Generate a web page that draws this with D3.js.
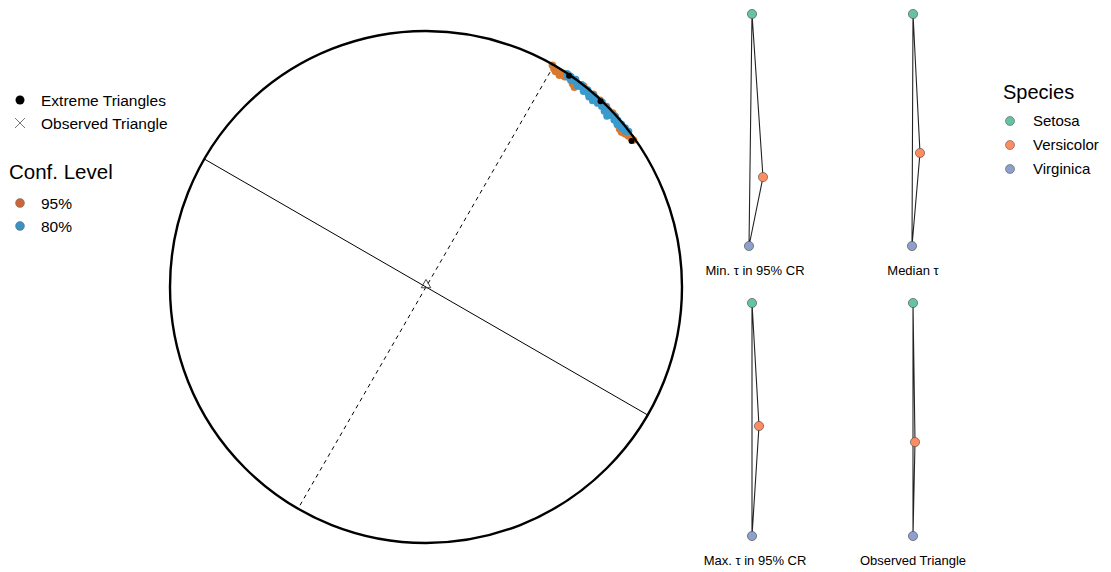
<!DOCTYPE html>
<html lang="en">
<head>
    <meta charset="UTF-8">
    <script src="https://d3js.org/d3.v7.min.js"></script>
    <style>
        body { margin: 0; background: #fff; font-family: "Liberation Sans", Arial, sans-serif; }
        svg { display: block; }
    </style>
</head>
<body>
    <svg width="1111" height="572"></svg>
    <script>
        // confidence region points on the circle: angle (deg, screen) and radius (unit circle)
        let ci95Angle = [-60.3, -59.6, -59.0, -58.4, -57.8, -57.2, -56.6, -55.8, -55.0, -54.2, -53.4, -52.6, -51.8, -50.9, -50.0, -49.0, -48.0, -47.0, -46.0, -45.0, -44.0, -43.0, -42.0, -41.0, -40.0, -39.2, -38.4, -37.6, -36.8, -36.0, -35.3];
        let ci95Radius = [0.997, 0.988, 0.982, 0.987, 0.978, 0.992, 0.984, 0.997, 0.986, 0.979, 0.972, 0.987, 0.997, 0.992, 0.987, 0.997, 0.992, 0.997, 0.992, 0.997, 0.992, 0.997, 0.995, 0.987, 0.981, 0.976, 0.974, 0.981, 0.986, 0.99, 0.993];
        let ci80Angle = [-56.5, -56.0, -55.4, -54.8, -54.2, -53.6, -53.0, -52.4, -51.8, -51.2, -50.6, -50.0, -49.4, -48.8, -48.2, -47.6, -47.0, -46.4, -45.8, -45.2, -44.6, -44.0, -43.4, -42.8, -42.2, -41.6, -41.0, -40.4, -39.8, -39.2, -38.6, -38.0, -37.5];
        let ci80Radius = [1.0, 0.99, 0.998, 0.986, 1.0, 0.992, 0.983, 0.998, 0.99, 0.981, 0.996, 0.986, 0.978, 0.995, 0.976, 0.99, 0.982, 0.998, 0.984, 0.995, 0.978, 0.99, 0.972, 0.986, 0.996, 0.982, 0.993, 0.98, 0.994, 0.984, 0.996, 0.988, 0.998];
        let extremeAngle = [-55.9, -46.8, -35.4];
        let extremeRadius = [0.997, 0.996, 0.985];
        let axisAngles = [30, -60];      // solid, dashed direction
        let observedPoint = [0, 0];

        let species = ["Setosa", "Versicolor", "Virginica"];
        let speciesColors = ["#66C2A5", "#FC8D62", "#8DA0CB"];
        let panelTitles = ["Min. \u03c4 in 95% CR", "Median \u03c4", "Max. \u03c4 in 95% CR", "Observed Triangle"];
        // triangle vertices per panel (x offset, height), order: setosa, versicolor, virginica
        let panelX = [[-0.0375, 0.1, -0.075], [0, 0.0875, -0.0125], [-0.0375, 0.05, -0.0375], [0, 0.025, 0]];
        let panelY = [[1, 0.297, 0], [1, 0.401, 0], [1, 0.472, 0], [1, 0.403, 0]];

        let confLevels = ["95%", "80%"];
        let confColors = ["#C9663A", "#3A91C2"];

        let svg = d3.select("svg");

        // ---- big circle ----
        let cx = 426, cy = 287, R = 256;
        let r = d3.scaleLinear().domain([0, 1]).range([0, R]);
        let polar = (a, rad) => [cx + r(rad) * Math.cos(a * Math.PI / 180), cy + r(rad) * Math.sin(a * Math.PI / 180)];

        let g = svg.append("g");

        axisAngles.forEach((a, i) => {
            let p1 = polar(a, 1), p2 = polar(a + 180, 1);
            g.append("line")
                .attr("x1", p1[0]).attr("y1", p1[1])
                .attr("x2", p2[0]).attr("y2", p2[1])
                .attr("stroke", "#000")
                .attr("stroke-width", 1)
                .attr("stroke-dasharray", i == 1 ? "4,4" : null);
        });

        g.selectAll(".c95")
            .data(d3.zip(ci95Angle, ci95Radius))
            .enter().append("circle")
            .attr("cx", d => polar(d[0], d[1])[0])
            .attr("cy", d => polar(d[0], d[1])[1])
            .attr("r", 3.8)
            .attr("fill", "#D9782F");

        g.selectAll(".c80")
            .data(d3.zip(ci80Angle, ci80Radius))
            .enter().append("circle")
            .attr("cx", d => polar(d[0], d[1])[0])
            .attr("cy", d => polar(d[0], d[1])[1])
            .attr("r", 3.6)
            .attr("fill", "#3A9ACB");

        g.append("circle")
            .attr("cx", cx).attr("cy", cy).attr("r", R)
            .attr("fill", "none")
            .attr("stroke", "#000")
            .attr("stroke-width", 2.4);

        g.selectAll(".ext")
            .data(d3.zip(extremeAngle, extremeRadius))
            .enter().append("circle")
            .attr("cx", d => polar(d[0], d[1])[0])
            .attr("cy", d => polar(d[0], d[1])[1])
            .attr("r", 3)
            .attr("fill", "#000");

        g.append("path")
            .attr("d", d3.symbol(d3.symbolTriangle, 40))
            .attr("transform", `translate(${cx + r(observedPoint[0])},${cy - 2 + r(observedPoint[1])})`)
            .attr("fill", "none")
            .attr("stroke", "#444")
            .attr("stroke-width", 1);

        // ---- left legend ----
        let lg = svg.append("g").style("font-size", "15.5px");
        lg.append("circle").attr("cx", 20).attr("cy", 100).attr("r", 4.5).attr("fill", "#000");
        lg.append("text").attr("x", 41).attr("y", 105.5).text("Extreme Triangles");
        lg.append("path").attr("d", "M-5,-5L5,5M-5,5L5,-5")
            .attr("transform", "translate(20,123)").attr("stroke", "#555").attr("stroke-width", 0.8);
        lg.append("text").attr("x", 41).attr("y", 128.5).text("Observed Triangle");
        lg.append("text").attr("x", 9).attr("y", 179).style("font-size", "20.5px").text("Conf. Level");
        confLevels.forEach((c, i) => {
            lg.append("circle").attr("cx", 20).attr("cy", 203 + i * 23).attr("r", 4.5)
                .attr("fill", confColors[i]).attr("stroke", "#555").attr("stroke-width", 0.4);
            lg.append("text").attr("x", 41).attr("y", 208.5 + i * 23).text(c);
        });

        // ---- triangle panels ----
        let centers = [755, 913];
        let rows = [[14, 246], [303, 536]];
        panelTitles.forEach((t, p) => {
            let col = p % 2, row = Math.floor(p / 2);
            let x = d3.scaleLinear().domain([-1, 1]).range([centers[col] - 80, centers[col] + 80]);
            let y = d3.scaleLinear().domain([0, 1]).range([rows[row][1], rows[row][0]]);
            let pts = species.map((s, i) => [x(panelX[p][i]), y(panelY[p][i])]);
            let pg = svg.append("g");
            pg.append("path")
                .attr("d", d3.line()(pts.concat([pts[0]])))
                .attr("fill", "none")
                .attr("stroke", "#222")
                .attr("stroke-width", 1.1);
            pg.selectAll("circle")
                .data(pts)
                .enter().append("circle")
                .attr("cx", d => d[0])
                .attr("cy", d => d[1])
                .attr("r", 4.6)
                .attr("fill", (d, i) => speciesColors[i])
                .attr("stroke", "#444")
                .attr("stroke-width", 0.6);
            pg.append("text")
                .attr("x", centers[col])
                .attr("y", rows[row][1] + 28.5)
                .attr("text-anchor", "middle")
                .style("font-size", "13px")
                .text(t);
        });

        // ---- species legend ----
        let sg = svg.append("g").style("font-size", "15px");
        sg.append("text").attr("x", 1003).attr("y", 99).style("font-size", "20px").text("Species");
        species.forEach((s, i) => {
            sg.append("circle").attr("cx", 1010).attr("cy", 121 + i * 24).attr("r", 4.5)
                .attr("fill", speciesColors[i]).attr("stroke", "#444").attr("stroke-width", 0.5);
            sg.append("text").attr("x", 1033).attr("y", 126 + i * 24).text(s);
        });
    </script>
</body>
</html>
